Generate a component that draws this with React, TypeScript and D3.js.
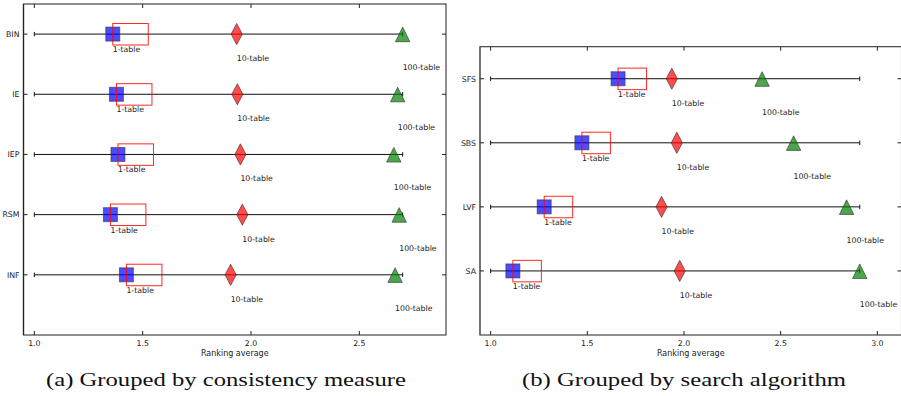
import React from 'react';
import * as d3 from 'd3';

// Ranking averages
const measures = ['BIN', 'IE', 'IEP', 'RSM', 'INF'];
const measureOneTable = [1.362, 1.379, 1.386, 1.351, 1.425];
const measureTenTable = [1.934, 1.937, 1.951, 1.96, 1.906];
const measureHundredTable = [2.7, 2.677, 2.659, 2.684, 2.665];
const measureTicks = [1.0, 1.5, 2.0, 2.5];

const algorithms = ['SFS', 'SBS', 'LVF', 'SA'];
const algoOneTable = [1.659, 1.472, 1.277, 1.115];
const algoTenTable = [1.937, 1.963, 1.884, 1.978];
const algoHundredTable = [2.404, 2.567, 2.841, 2.909];
const algoTicks = [1.0, 1.5, 2.0, 2.5, 3.0];

const seriesLabels = ['1-table', '10-table', '100-table'];

const FONT = '"DejaVu Sans", sans-serif';
const TEXT = '#222';

interface PanelProps {
  rows: string[];
  one: number[];
  ten: number[];
  hundred: number[];
  ticks: number[];
  xDomain: [number, number];
  box: { left: number; right: number; top: number; bottom: number };
  boxWidth: number;
  spine: string;
  caption: string;
  captionX: number;
  captionWidth: number;
}

const Panel: React.FC<PanelProps> = ({ rows, one, ten, hundred, ticks, xDomain, box, boxWidth, spine, caption, captionX, captionWidth }) => {
  const x = d3.scaleLinear().domain(xDomain).range([box.left, box.right]);
  const y = d3.scaleLinear().domain([0.5, rows.length + 1]).range([box.top, box.bottom]);
  const lineStart = 1.0;
  const lineEnd = d3.max(hundred) as number;
  const tickLen = 4;

  return (
    <g>
      {/* frame */}
      <rect x={box.left} y={box.top} width={box.right - box.left} height={box.bottom - box.top}
        fill="none" stroke="#333" strokeWidth={1.1} />
      <line x1={box.left} x2={box.left} y1={box.top} y2={box.bottom} stroke={spine} strokeWidth={1.3} />

      {/* x ticks, inward on top and bottom */}
      {ticks.map(t => (
        <g key={t}>
          <line x1={x(t)} x2={x(t)} y1={box.bottom} y2={box.bottom - tickLen} stroke="#222" />
          <line x1={x(t)} x2={x(t)} y1={box.top} y2={box.top + tickLen} stroke="#222" />
          <text x={x(t)} y={box.bottom + 11} textAnchor="middle" fontSize={7.8} fontFamily={FONT} fill={TEXT}>
            {t.toFixed(1)}
          </text>
        </g>
      ))}
      <text x={(box.left + box.right) / 2} y={box.bottom + 21}
        textAnchor="middle" fontSize={8} fontFamily={FONT} fill={TEXT}>
        Ranking average
      </text>

      {rows.map((name, i) => {
        const cy = y(i + 1);
        const xs = [one[i], ten[i], hundred[i]];
        const sq = 14;
        return (
          <g key={name}>
            <line x1={box.left} x2={box.left + tickLen} y1={cy} y2={cy} stroke="#222" />
            <line x1={box.right} x2={box.right - tickLen} y1={cy} y2={cy} stroke="#222" />
            <text x={box.left - 4} y={cy + 2.8} textAnchor="end" fontSize={7.8} fontFamily={FONT} fill={TEXT}>
              {name}
            </text>

            {/* range line with end caps */}
            <line x1={x(lineStart)} x2={x(lineEnd)} y1={cy} y2={cy} stroke="#111" strokeWidth={1} />
            <line x1={x(lineStart)} x2={x(lineStart)} y1={cy - 2.2} y2={cy + 2.2} stroke="#111" />
            <line x1={x(lineEnd)} x2={x(lineEnd)} y1={cy - 2.2} y2={cy + 2.2} stroke="#111" />

            {/* 1-table square */}
            <rect x={x(one[i]) - sq / 2} y={cy - sq / 2} width={sq} height={sq}
              fill="rgb(0,0,255)" fillOpacity={0.7} stroke="#333" strokeOpacity={0.6} strokeWidth={1} />
            <rect x={x(one[i])} y={cy - 10.6} width={boxWidth} height={21.5}
              fill="none" stroke="#f00" strokeOpacity={0.85} strokeWidth={1} />

            {/* 10-table diamond */}
            <path d={`M${x(ten[i])},${cy - 10.6}L${x(ten[i]) + 5.6},${cy}L${x(ten[i])},${cy + 10.6}L${x(ten[i]) - 5.6},${cy}Z`}
              fill="rgb(255,0,0)" fillOpacity={0.7} stroke="#333" strokeOpacity={0.7} strokeWidth={0.9} />

            {/* 100-table triangle */}
            <path d={`M${x(hundred[i])},${cy - 7}L${x(hundred[i]) + 7.2},${cy + 7.6}L${x(hundred[i]) - 7.2},${cy + 7.6}Z`}
              fill="rgb(0,128,0)" fillOpacity={0.7} stroke="#333" strokeOpacity={0.7} strokeWidth={0.9} />

            {xs.map((v, k) => (
              <text key={k} x={x(v)} y={cy + 18 + 9 * k} fontSize={7.8} fontFamily={FONT} fill={TEXT}>
                {seriesLabels[k]}
              </text>
            ))}
          </g>
        );
      })}

      <text x={captionX} y={386} textAnchor="middle" fontSize={19} fontFamily='"Liberation Serif", serif'
        fill="#111" textLength={captionWidth} lengthAdjust="spacingAndGlyphs">
        {caption}
      </text>
    </g>
  );
};

export default function App() {
  return (
    <svg width={901} height={396} style={{ position: 'absolute', left: 0, top: 0, background: '#fff' }}>
      <rect width={901} height={396} fill="#fff" />
      <Panel rows={measures} one={measureOneTable} ten={measureTenTable} hundred={measureHundredTable}
        ticks={measureTicks} xDomain={[0.95, 2.9]}
        box={{ left: 23.5, right: 446, top: 4, bottom: 335 }} boxWidth={35.5} spine="#222"
        caption="(a) Grouped by consistency measure" captionX={226} captionWidth={360} />
      <Panel rows={algorithms} one={algoOneTable} ten={algoTenTable} hundred={algoHundredTable}
        ticks={algoTicks} xDomain={[0.945, 3.125]}
        box={{ left: 480, right: 901.5, top: 46.7, bottom: 335 }} boxWidth={28.5} spine="#666"
        caption="(b) Grouped by search algorithm" captionX={684} captionWidth={324} />
    </svg>
  );
}
